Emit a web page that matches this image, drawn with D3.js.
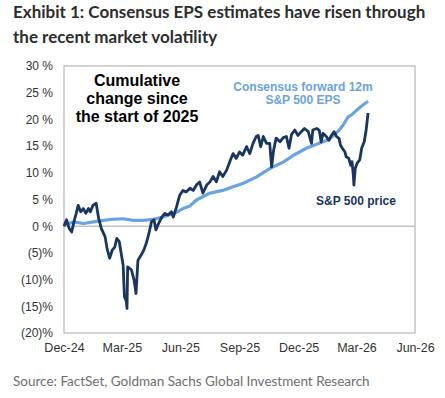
<!DOCTYPE html>
<html>
<head>
<meta charset="utf-8">
<script src="https://cdn.jsdelivr.net/npm/d3@7"></script>
<style>
  body { margin: 0; background: #fff; }
  svg { display: block; }
</style>
</head>
<body>
<svg id="chart"></svg>
<script>
// S&P 500 price, cumulative % change since start of 2025
const spxDates = ["2024-12-31","2025-01-04","2025-01-08","2025-01-12","2025-01-16","2025-01-19","2025-01-22","2025-01-26","2025-01-30","2025-02-03","2025-02-07","2025-02-10","2025-02-14","2025-02-19","2025-02-23","2025-02-27","2025-03-05","2025-03-08","2025-03-12","2025-03-16","2025-03-20","2025-03-23","2025-03-27","2025-03-30","2025-04-02","2025-04-04","2025-04-07","2025-04-08","2025-04-09","2025-04-15","2025-04-19","2025-04-22","2025-04-25","2025-04-30","2025-05-04","2025-05-08","2025-05-12","2025-05-16","2025-05-20","2025-05-23","2025-05-26","2025-06-01","2025-06-06","2025-06-11","2025-06-16","2025-06-19","2025-06-24","2025-06-29","2025-07-04","2025-07-09","2025-07-15","2025-07-20","2025-07-25","2025-07-30","2025-08-04","2025-08-10","2025-08-15","2025-08-20","2025-08-25","2025-08-30","2025-09-04","2025-09-10","2025-09-15","2025-09-20","2025-09-25","2025-09-30","2025-10-05","2025-10-11","2025-10-16","2025-10-21","2025-10-26","2025-10-29","2025-11-02","2025-11-06","2025-11-11","2025-11-16","2025-11-19","2025-11-22","2025-11-26","2025-12-02","2025-12-07","2025-12-12","2025-12-16","2025-12-20","2025-12-25","2025-12-30","2026-01-04","2026-01-09","2026-01-15","2026-01-20","2026-01-22","2026-01-28","2026-02-01","2026-02-04","2026-02-07","2026-02-12","2026-02-16","2026-02-20","2026-02-24","2026-02-28","2026-03-04","2026-03-06","2026-03-09","2026-03-13","2026-03-15","2026-03-19","2026-03-22","2026-03-24","2026-03-26","2026-03-27","2026-03-29","2026-04-01","2026-04-05","2026-04-08","2026-04-12","2026-04-15","2026-04-18"];
const spxValues = [0.0,1.2,-0.4,-1.1,1.1,2.4,3.9,2.7,3.3,2.4,3.3,2.7,3.9,4.3,1.4,-0.4,-2.0,-4.2,-6.0,-4.5,-3.9,-2.3,-2.9,-5.1,-7.3,-13.2,-14.1,-15.4,-7.6,-8.2,-10.1,-12.6,-6.4,-5.4,-4.5,-3.2,-1.4,0.8,1.2,-0.7,0.2,1.7,2.4,2.1,2.7,1.7,3.6,5.8,6.7,6.4,7.1,6.7,7.7,8.3,6.2,7.7,8.3,9.3,8.3,10.2,9.3,10.5,12.1,13.6,12.7,13.9,13.3,14.9,13.6,15.5,16.8,17.0,14.9,16.8,15.5,15.5,11.1,14.2,16.5,15.8,16.6,16.8,14.6,17.2,18.0,17.0,17.7,18.3,17.7,15.5,18.0,18.3,18.0,15.8,17.4,16.8,16.1,17.0,17.7,16.8,16.4,15.2,14.6,13.9,13.0,12.7,11.4,12.1,9.6,7.7,10.8,11.8,12.4,14.6,15.8,18.0,21.2];

// Consensus forward 12m S&P 500 EPS, cumulative % change
const epsDates = ["2024-12-31","2025-01-15","2025-01-30","2025-02-15","2025-03-02","2025-03-17","2025-04-02","2025-04-18","2025-05-03","2025-05-19","2025-06-03","2025-06-14","2025-06-24","2025-07-04","2025-07-15","2025-07-25","2025-08-15","2025-09-04","2025-09-20","2025-10-05","2025-10-26","2025-11-16","2025-12-07","2025-12-22","2026-01-12","2026-02-02","2026-02-17","2026-03-02","2026-03-10","2026-03-18","2026-03-23","2026-03-31","2026-04-10","2026-04-18"];
const epsValues = [0.3,0.8,0.5,0.8,1.1,1.3,1.4,1.1,1.1,1.3,1.7,2.2,2.6,3.3,3.8,4.9,6.2,6.7,7.4,8.0,9.2,10.8,12.0,13.2,14.6,15.6,16.3,17.7,18.9,20.5,20.8,21.7,22.7,23.4];

const xTickDates = ["2024-12-31","2025-03-31","2025-06-30","2025-09-30","2025-12-31","2026-03-31","2026-06-30"];
const xTickLabels = ["Dec-24","Mar-25","Jun-25","Sep-25","Dec-25","Mar-26","Jun-26"];
const yTicks = [30,25,20,15,10,5,0,-5,-10,-15,-20];

const W = 445, H = 398;
const margin = {top: 66, right: 30, bottom: 65, left: 64};
const parseDate = d3.timeParse('%Y-%m-%d');

const svg = d3.select('#chart').attr('width', W).attr('height', H);

// title + source
const title = svg.append('text')
  .style('font-family', 'Lato').style('font-weight', 'bold')
  .style('font-size', '17px').attr('fill', '#2d2d2d');
title.append('tspan').attr('x', 13).attr('y', 18).text('Exhibit 1: Consensus EPS estimates have risen through');
title.append('tspan').attr('x', 13).attr('y', 43).text('the recent market volatility');

svg.append('text')
  .attr('x', 13).attr('y', 386)
  .style('font-family', 'Lato').style('font-size', '13.5px')
  .attr('fill', '#6e6e6e')
  .text('Source: FactSet, Goldman Sachs Global Investment Research');

const x = d3.scaleTime()
  .domain([parseDate(xTickDates[0]), parseDate(xTickDates[xTickDates.length - 1])])
  .range([margin.left, W - margin.right]);

const y = d3.scaleLinear()
  .domain([-20, 30])
  .range([H - margin.bottom, margin.top]);

const fmt = v => v < 0 ? '(' + (-v) + ')%' : v + ' %';

// y axis
svg.append('g')
  .attr('transform', 'translate(' + (margin.left - 11) + ',0)')
  .call(d3.axisLeft(y).tickValues(yTicks).tickFormat(fmt).tickSize(0).tickPadding(0))
  .call(g => g.select('.domain').remove())
  .selectAll('text')
    .style('font-family', 'Liberation Sans, Arial')
    .style('font-size', '12px')
    .attr('fill', '#333');

// x axis
svg.append('g')
  .attr('transform', 'translate(0,' + (H - margin.bottom + 6) + ')')
  .call(d3.axisBottom(x).tickValues(xTickDates.map(parseDate))
    .tickFormat((d, i) => xTickLabels[i]).tickSize(0).tickPadding(4))
  .call(g => g.select('.domain').remove())
  .selectAll('text')
    .style('font-family', 'Liberation Sans, Arial')
    .style('font-size', '12.5px')
    .attr('fill', '#333');

// frame
svg.append('rect')
  .attr('x', x.range()[0]).attr('y', y.range()[1])
  .attr('width', x.range()[1] - x.range()[0])
  .attr('height', y.range()[0] - y.range()[1])
  .attr('fill', 'none').attr('stroke', '#a6a6a6').attr('stroke-width', 1);

// zero line
svg.append('line')
  .attr('x1', x.range()[0]).attr('x2', x.range()[1])
  .attr('y1', y(0)).attr('y2', y(0))
  .attr('stroke', '#a6a6a6').attr('stroke-width', 1);

const line = d3.line()
  .x(d => x(d.date))
  .y(d => y(d.v));

const eps = epsDates.map((d, i) => ({date: parseDate(d), v: epsValues[i]}));
const spx = spxDates.map((d, i) => ({date: parseDate(d), v: spxValues[i]}));

svg.append('path')
  .datum(eps)
  .attr('fill', 'none')
  .attr('stroke', '#6aa3df')
  .attr('stroke-width', 3.2)
  .attr('stroke-linejoin', 'round')
  .attr('d', line);

svg.append('path')
  .datum(spx)
  .attr('fill', 'none')
  .attr('stroke', '#18365f')
  .attr('stroke-width', 2.8)
  .attr('stroke-linejoin', 'round')
  .attr('d', line);

// annotations
const note = svg.append('text')
  .attr('text-anchor', 'middle')
  .style('font-family', 'Liberation Sans, Arial').style('font-weight', 'bold')
  .style('font-size', '16px').attr('fill', '#000');
['Cumulative', 'change since', 'the start of 2025'].forEach((t, i) => {
  note.append('tspan').attr('x', 137).attr('y', 86 + i * 18).text(t);
});

const epsLbl = svg.append('text')
  .attr('text-anchor', 'middle')
  .style('font-family', 'Liberation Sans, Arial').style('font-weight', 'bold')
  .style('font-size', '12px').attr('fill', '#6aa3df');
epsLbl.append('tspan').attr('x', 303).attr('y', 91).text('Consensus forward 12m');
epsLbl.append('tspan').attr('x', 303).attr('y', 104).text('S&P 500 EPS');

svg.append('text')
  .attr('x', 356).attr('y', 205)
  .attr('text-anchor', 'middle')
  .style('font-family', 'Liberation Sans, Arial').style('font-weight', 'bold')
  .style('font-size', '12px').attr('fill', '#18365f')
  .text('S&P 500 price');
</script>
</body>
</html>
